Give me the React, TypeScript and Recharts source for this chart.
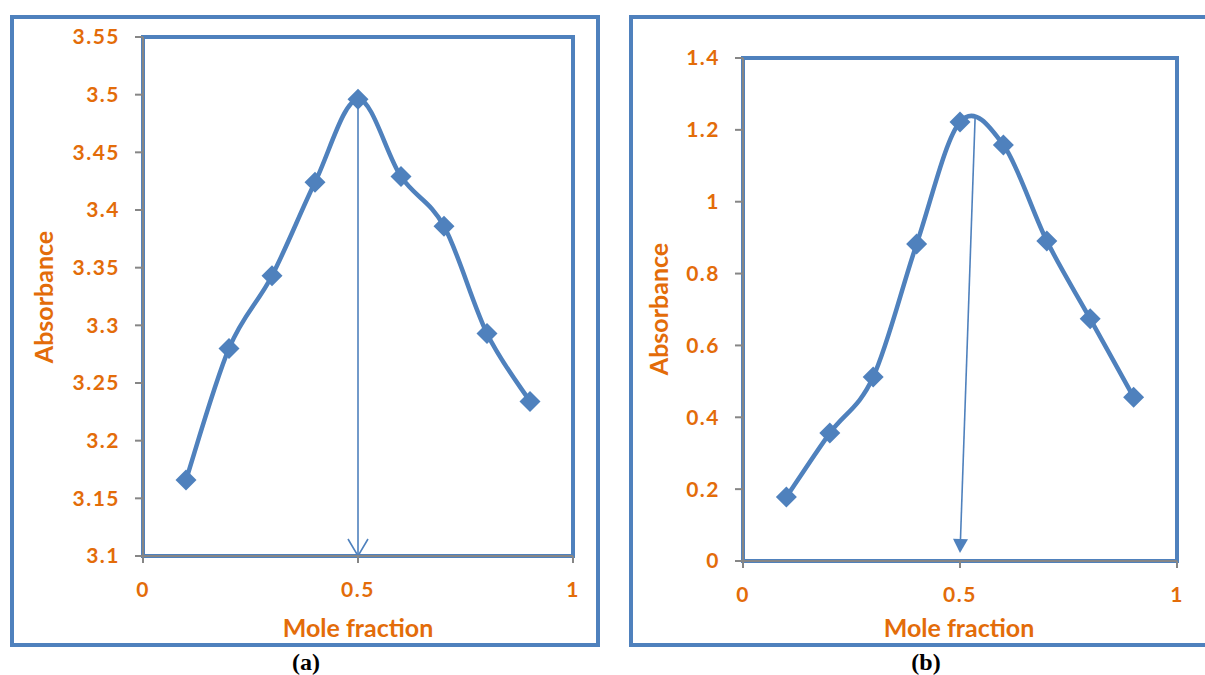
import React from 'react';
import { LineChart, Line, XAxis, YAxis, ReferenceArea, ReferenceLine } from 'recharts';

// mole fraction of the job's plot (shared by both panels)
const moleFraction = [0.1, 0.2, 0.3, 0.4, 0.5, 0.6, 0.7, 0.8, 0.9];
const absorbanceA = [3.166, 3.28, 3.343, 3.424, 3.496, 3.429, 3.386, 3.293, 3.234];
const absorbanceB = [0.178, 0.356, 0.512, 0.882, 1.222, 1.158, 0.891, 0.674, 0.456];

const xTicks = [0, 0.5, 1];
const yTicksA = [3.1, 3.15, 3.2, 3.25, 3.3, 3.35, 3.4, 3.45, 3.5, 3.55];
const yTicksB = [0, 0.2, 0.4, 0.6, 0.8, 1, 1.2, 1.4];

// arrows marking the stoichiometric point
const arrowA = [{ x: 0.5, y: 3.497 }, { x: 0.5, y: 3.1 }];
const arrowB = [{ x: 0.535, y: 1.241 }, { x: 0.5, y: 0.022 }];

const BLUE = '#4f81bd';
const ORANGE = '#e36c09';
const GREY = '#868686';
const FONT = 'Lato, "Open Sans", sans-serif';

// Excel-style smoothed line (bezier through the points, 1/6 tangents)
const excelSmooth = (ctx: any) => {
  let pts: number[][] = [];
  return {
    areaStart() {},
    areaEnd() {},
    lineStart() {
      pts = [];
    },
    point(x: number, y: number) {
      pts.push([+x, +y]);
    },
    lineEnd() {
      if (!pts.length) return;
      ctx.moveTo(pts[0][0], pts[0][1]);
      for (let i = 0; i < pts.length - 1; i++) {
        const p0 = pts[Math.max(i - 1, 0)];
        const p1 = pts[i];
        const p2 = pts[i + 1];
        const p3 = pts[Math.min(i + 2, pts.length - 1)];
        ctx.bezierCurveTo(
          p1[0] + (p2[0] - p0[0]) / 6,
          p1[1] + (p2[1] - p0[1]) / 6,
          p2[0] - (p3[0] - p1[0]) / 6,
          p2[1] - (p3[1] - p1[1]) / 6,
          p2[0],
          p2[1]
        );
      }
    },
  };
};

const Diamond = (props: any) => {
  const { cx, cy, index } = props;
  const r = 10.5;
  return (
    <polygon
      key={`dm-${index}`}
      points={`${cx},${cy - r} ${cx + r},${cy} ${cx},${cy + r} ${cx - r},${cy}`}
      fill={BLUE}
    />
  );
};

const arrowShape = (filled: boolean) => (props: any) => {
  const { x1, y1, x2, y2 } = props;
  if (x1 == null || x2 == null) return <g />;
  const dx = x2 - x1;
  const dy = y2 - y1;
  const len = Math.sqrt(dx * dx + dy * dy) || 1;
  const ux = dx / len;
  const uy = dy / len;
  const headLen = filled ? 14 : 17;
  const half = filled ? 7.5 : 10;
  const bx = x2 - ux * headLen;
  const by = y2 - uy * headLen;
  const lx = bx - uy * half;
  const ly = by + ux * half;
  const rx = bx + uy * half;
  const ry = by - ux * half;
  return (
    <g>
      <line x1={x1} y1={y1} x2={filled ? bx : x2} y2={filled ? by : y2} stroke={BLUE} strokeWidth={1.6} />
      {filled ? (
        <polygon points={`${x2},${y2} ${lx},${ly} ${rx},${ry}`} fill={BLUE} />
      ) : (
        <polyline points={`${lx},${ly} ${x2},${y2} ${rx},${ry}`} fill="none" stroke={BLUE} strokeWidth={1.6} />
      )}
    </g>
  );
};

const tickStyle = { fill: ORANGE, fontSize: 21, fontWeight: 700, fontFamily: FONT, letterSpacing: 1.5 };

interface PanelProps {
  values: number[];
  domain: [number, number];
  yTicks: number[];
  arrow: { x: number; y: number }[];
  filledHead: boolean;
  width: number;
  margin: { top: number; right: number; bottom: number; left: number };
}

function Panel({ values, domain, yTicks, arrow, filledHead, width, margin }: PanelProps) {
  const data = moleFraction.map((x, i) => ({ x, y: values[i] }));
  return (
    <LineChart width={width} height={675} data={data} margin={margin}>
      <ReferenceArea x1={0} x2={1} y1={domain[0]} y2={domain[1]} fill="none" stroke={BLUE} strokeWidth={4} />
      <XAxis
        dataKey="x"
        type="number"
        domain={[0, 1]}
        ticks={xTicks}
        height={30}
        tickSize={7}
        tickMargin={19}
        axisLine={{ stroke: GREY, strokeWidth: 2 }}
        tickLine={{ stroke: GREY, strokeWidth: 2 }}
        tick={tickStyle}
      />
      <YAxis
        type="number"
        domain={domain}
        ticks={yTicks}
        width={60}
        tickSize={8}
        tickMargin={15}
        axisLine={{ stroke: GREY, strokeWidth: 2 }}
        tickLine={{ stroke: GREY, strokeWidth: 2 }}
        tick={tickStyle}
        allowDataOverflow
      />
      <ReferenceLine segment={arrow} shape={arrowShape(filledHead)} />
      <Line
        dataKey="y"
        type={excelSmooth as any}
        stroke={BLUE}
        strokeWidth={4.5}
        dot={Diamond}
        activeDot={false}
        isAnimationActive={false}
      />
    </LineChart>
  );
}

const textBase: React.CSSProperties = {
  position: 'absolute',
  transform: 'translate(-50%, -50%)',
  whiteSpace: 'nowrap',
  lineHeight: 1,
  color: ORANGE,
  fontFamily: FONT,
  fontWeight: 700,
  fontSize: 25,
};

const captionStyle: React.CSSProperties = {
  position: 'absolute',
  transform: 'translate(-50%, -50%)',
  whiteSpace: 'nowrap',
  lineHeight: 1,
  color: '#000',
  fontFamily: '"Liberation Serif", "Times New Roman", serif',
  fontWeight: 700,
  fontSize: 24,
};

export default function App() {
  return (
    <div
      style={{
        position: 'absolute',
        left: 0,
        top: 0,
        width: 1205,
        height: 675,
        background: '#fff',
        overflow: 'hidden',
      }}
    >
      {/* outer frames */}
      <div
        style={{
          position: 'absolute',
          left: 10,
          top: 15,
          width: 590,
          height: 632,
          border: `4px solid ${BLUE}`,
          boxSizing: 'border-box',
        }}
      />
      <div
        style={{
          position: 'absolute',
          left: 629,
          top: 15,
          width: 600,
          height: 632,
          border: `4px solid ${BLUE}`,
          boxSizing: 'border-box',
        }}
      />

      <div style={{ position: 'absolute', left: 0, top: 0 }}>
        <Panel
          values={absorbanceA}
          domain={[3.1, 3.55]}
          yTicks={yTicksA}
          arrow={arrowA}
          filledHead={false}
          width={605}
          margin={{ top: 37, right: 32, bottom: 89, left: 83 }}
        />
      </div>
      <div style={{ position: 'absolute', left: 605, top: 0 }}>
        <Panel
          values={absorbanceB}
          domain={[0, 1.4]}
          yTicks={yTicksB}
          arrow={arrowB}
          filledHead
          width={600}
          margin={{ top: 58, right: 28, bottom: 84, left: 78 }}
        />
      </div>

      <div style={{ ...textBase, left: 43, top: 297, transform: 'translate(-50%, -50%) rotate(-90deg)' }}>Absorbance</div>
      <div style={{ ...textBase, left: 658, top: 309, transform: 'translate(-50%, -50%) rotate(-90deg)' }}>Absorbance</div>
      <div style={{ ...textBase, left: 358, top: 627 }}>Mole fraction</div>
      <div style={{ ...textBase, left: 959, top: 627 }}>Mole fraction</div>

      <div style={{ ...captionStyle, left: 306, top: 662 }}>(a)</div>
      <div style={{ ...captionStyle, left: 926, top: 662 }}>(b)</div>
    </div>
  );
}
